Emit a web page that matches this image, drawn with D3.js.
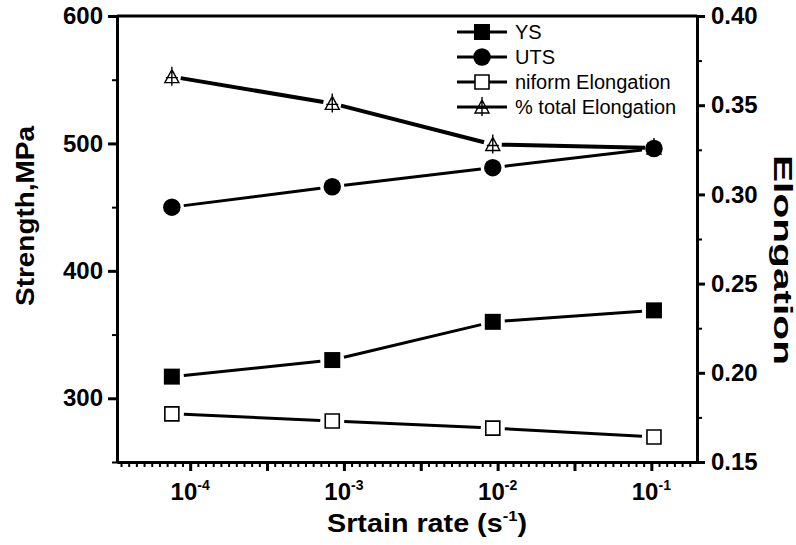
<!DOCTYPE html>
<html>
<head>
<meta charset="utf-8">
<script src="https://cdn.jsdelivr.net/npm/d3@7"></script>
<style>
body { margin: 0; background: #fff; }
svg { display: block; font-family: "Liberation Sans", Arial, sans-serif; }
</style>
</head>
<body>
<svg id="chart" width="796" height="545"></svg>
<script>
// data
var strainRates = [7.6e-5, 8.4e-4, 9.3e-3, 1.04e-1];
var ysValues = [317, 330, 360, 369];
var utsValues = [450, 466, 481, 496];
var uniformElong = [0.177, 0.173, 0.169, 0.164];
var totalElong = [0.366, 0.351, 0.328, 0.326];

var xTickExponents = [-4, -3, -2, -1];
var strengthTicks = [300, 400, 500, 600];
var strengthMinor = [250, 350, 450, 550];
var elongTicks = [0.15, 0.20, 0.25, 0.30, 0.35, 0.40];
var elongMinor = [0.175, 0.225, 0.275, 0.325, 0.375];
var legendLabels = ["YS", "UTS", "niform Elongation", "% total Elongation"];

var svg = d3.select("#chart");
var plotLeft = 117, plotRight = 697, plotTop = 16, plotBottom = 462;

var x = d3.scaleLog()
  .domain([Math.pow(10, -4.476), Math.pow(10, -0.703)])
  .range([plotLeft, plotRight]);
var yL = d3.scaleLinear().domain([250, 600]).range([plotBottom, plotTop]);
var yR = d3.scaleLinear().domain([0.15, 0.40]).range([plotBottom, plotTop]);

var font = '"Liberation Sans", Arial, sans-serif';

function styleAxis(g, w) {
  g.select(".domain").attr("stroke", "#000").attr("stroke-width", 3);
  g.selectAll(".tick line").attr("stroke", "#000").attr("stroke-width", w);
}

// x axis: minor every 1/20 decade, major every half decade
var xMinor = d3.range(-89, -14).map(function(k) { return Math.pow(10, k / 20); });
var xMajor = d3.range(-9, -1).map(function(k) { return Math.pow(10, k / 2); })
  .filter(function(v) { return v >= x.domain()[0] && v <= x.domain()[1]; });

svg.append("g")
  .attr("transform", "translate(0," + plotBottom + ")")
  .call(d3.axisBottom(x).tickValues(xMinor).tickSize(5).tickSizeOuter(0).tickFormat(""))
  .call(styleAxis, 2);
svg.append("g")
  .attr("transform", "translate(0," + plotBottom + ")")
  .call(d3.axisBottom(x).tickValues(xMajor).tickSize(9).tickSizeOuter(0).tickFormat(""))
  .call(styleAxis, 3);

// left axis
svg.append("g")
  .attr("transform", "translate(" + plotLeft + ",0)")
  .call(d3.axisLeft(yL).tickValues(strengthMinor).tickSize(5).tickSizeOuter(0).tickFormat(""))
  .call(styleAxis, 2);
svg.append("g")
  .attr("transform", "translate(" + plotLeft + ",0)")
  .call(d3.axisLeft(yL).tickValues(strengthTicks).tickSize(9).tickSizeOuter(0).tickPadding(5))
  .call(styleAxis, 3)
  .call(function(g) {
    g.selectAll("text").attr("fill", "#000").style("font", "bold 24px " + font);
  });

// right axis
svg.append("g")
  .attr("transform", "translate(" + plotRight + ",0)")
  .call(d3.axisRight(yR).tickValues(elongMinor).tickSize(5).tickSizeOuter(0).tickFormat(""))
  .call(styleAxis, 2);
svg.append("g")
  .attr("transform", "translate(" + plotRight + ",0)")
  .call(d3.axisRight(yR).tickValues(elongTicks).tickSize(8).tickSizeOuter(0).tickPadding(6)
    .tickFormat(d3.format(".2f")))
  .call(styleAxis, 3)
  .call(function(g) {
    g.selectAll("text").attr("fill", "#000").style("font", "bold 24px " + font);
  });

// top frame line
svg.append("line")
  .attr("x1", plotLeft).attr("x2", plotRight)
  .attr("y1", plotTop).attr("y2", plotTop)
  .attr("stroke", "#000").attr("stroke-width", 3);

// x tick labels 10^n
var xLabels = svg.append("g").style("font", "bold 24px " + font);
xTickExponents.forEach(function(e) {
  var t = xLabels.append("text")
    .attr("x", x(Math.pow(10, e)))
    .attr("y", 500)
    .attr("text-anchor", "middle");
  t.append("tspan").text("10");
  t.append("tspan").attr("dy", -10).style("font-size", "14px").text(String(e));
});

// axis titles
var xt = svg.append("text")
  .attr("x", 427).attr("y", 532)
  .attr("text-anchor", "middle")
  .attr("textLength", 200)
  .attr("lengthAdjust", "spacingAndGlyphs")
  .style("font", "bold 26px " + font);
xt.append("tspan").text("Srtain rate (s");
xt.append("tspan").attr("dy", -11).style("font-size", "15px").text("-1");
xt.append("tspan").attr("dy", 11).text(")");

svg.append("text")
  .attr("transform", "translate(34,216) rotate(-90)")
  .attr("text-anchor", "middle")
  .attr("textLength", 180)
  .attr("lengthAdjust", "spacingAndGlyphs")
  .style("font", "bold 26px " + font)
  .text("Strength,MPa");

svg.append("text")
  .attr("transform", "translate(774,260) rotate(90)")
  .attr("text-anchor", "middle")
  .attr("textLength", 210)
  .attr("lengthAdjust", "spacingAndGlyphs")
  .style("font", "bold 25px " + font)
  .text("Elongation");

// markers
var trianglePath = "M0,-7L7,6L-7,6Z M0,-10V9 M-6,1H6";
function drawMarker(g, kind, cx, cy) {
  if (kind === "fsq") {
    g.append("path").attr("d", d3.symbol(d3.symbolSquare, 256)())
      .attr("transform", "translate(" + cx + "," + cy + ")").attr("fill", "#000");
  } else if (kind === "circle") {
    g.append("path").attr("d", d3.symbol(d3.symbolCircle, 240)())
      .attr("transform", "translate(" + cx + "," + cy + ")").attr("fill", "#000");
  } else if (kind === "osq") {
    g.append("path").attr("d", d3.symbol(d3.symbolSquare, 196)())
      .attr("transform", "translate(" + cx + "," + cy + ")")
      .attr("fill", "#fff").attr("stroke", "#000").attr("stroke-width", 1.6);
  } else {
    g.append("path").attr("d", trianglePath)
      .attr("transform", "translate(" + cx + "," + cy + ")")
      .attr("fill", "none").attr("stroke", "#000").attr("stroke-width", 1.4);
  }
}

function drawSeries(values, yScale, kind, lineWidth, gap) {
  var g = svg.append("g");
  var pts = values.map(function(v, i) { return [x(strainRates[i]), yScale(v)]; });
  for (var i = 0; i < pts.length - 1; i++) {
    var a = pts[i], b = pts[i + 1];
    var dx = b[0] - a[0], dy = b[1] - a[1];
    var len = Math.sqrt(dx * dx + dy * dy);
    var ux = dx / len, uy = dy / len;
    g.append("line")
      .attr("x1", a[0] + ux * gap).attr("y1", a[1] + uy * gap)
      .attr("x2", b[0] - ux * gap).attr("y2", b[1] - uy * gap)
      .attr("stroke", "#000").attr("stroke-width", lineWidth);
  }
  pts.forEach(function(p) { drawMarker(g, kind, p[0], p[1]); });
}

drawSeries(totalElong, yR, "tri", 4, 9);
drawSeries(ysValues, yL, "fsq", 3, 12);
drawSeries(utsValues, yL, "circle", 3, 12);
drawSeries(uniformElong, yR, "osq", 3, 12);

// legend
var legendKinds = ["fsq", "circle", "osq", "tri"];
var legend = svg.append("g");
legendLabels.forEach(function(label, i) {
  var cy = 32 + i * 25;
  legend.append("line")
    .attr("x1", 457).attr("x2", 507).attr("y1", cy).attr("y2", cy)
    .attr("stroke", "#000").attr("stroke-width", 3);
  drawMarker(legend, legendKinds[i], 482, cy);
  legend.append("text")
    .attr("x", 515).attr("y", cy)
    .attr("dy", "0.35em")
    .style("font", "20px " + font)
    .text(label);
});
</script>
</body>
</html>
